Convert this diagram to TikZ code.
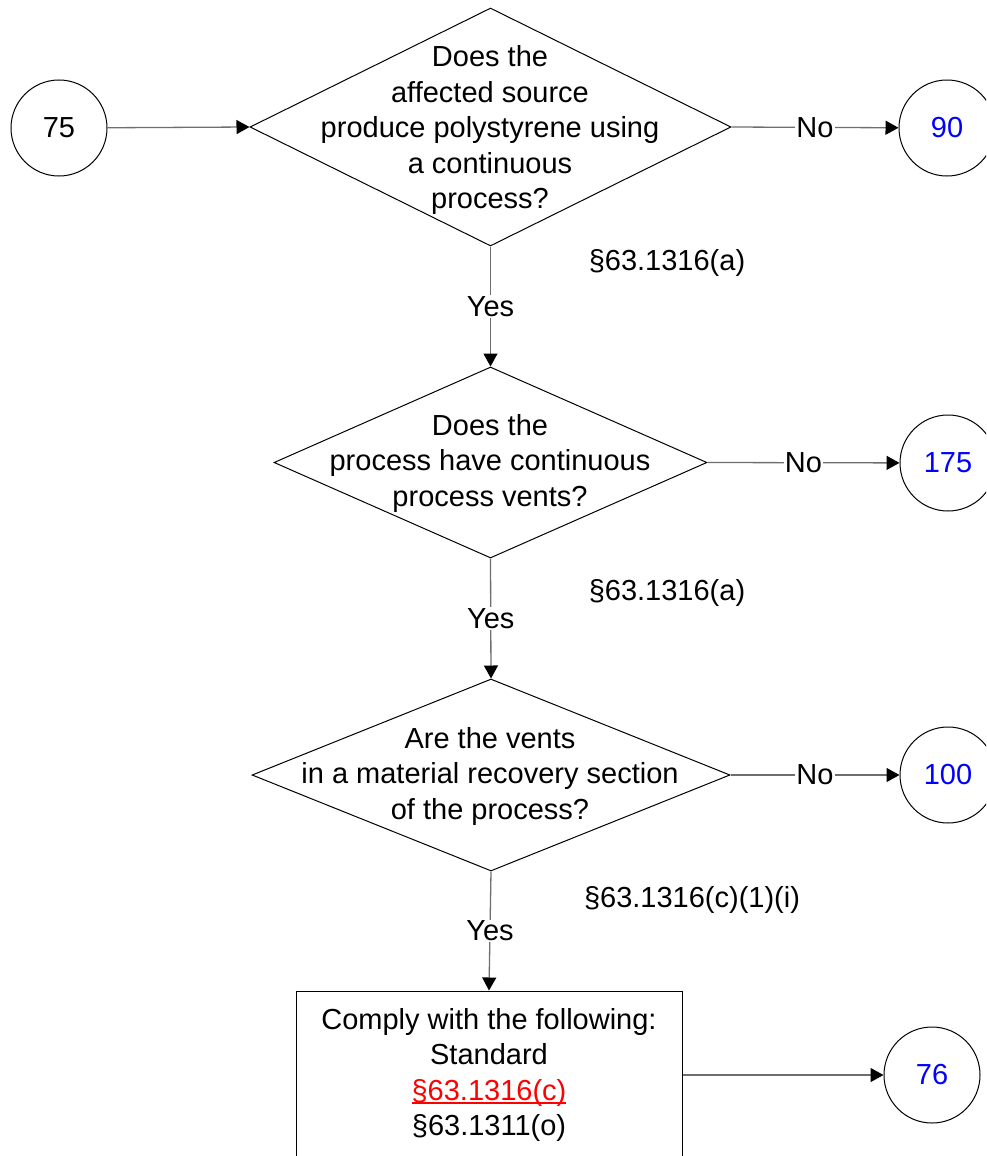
\documentclass[tikz,border=0pt]{standalone}
\usepackage{fontspec}
\setmainfont{Liberation Sans}
\usetikzlibrary{arrows.meta,shapes.geometric}
\definecolor{linkblue}{RGB}{0,0,255}
\definecolor{linkred}{RGB}{255,0,0}
\definecolor{connc}{RGB}{110,110,110}
\newcommand{\ulinetext}[1]{\setbox0\hbox{#1}\rlap{\rule[-3.5pt]{\wd0}{1.5pt}}\box0}
\begin{document}
\begin{tikzpicture}[x=1pt,y=-1pt,
  every node/.style={font=\fontsize{29}{35.5}\selectfont},
  term/.style={draw=black, line width=1pt, circle, minimum size=96pt, inner sep=0pt},
  dia/.style={draw=black, line width=1pt, shape=diamond, inner sep=0pt},
  qtext/.style={align=center, inner sep=0pt},
  actbox/.style={draw=black, line width=1pt, rectangle, align=center, minimum width=386pt, minimum height=168pt, inner sep=0pt},
  conn/.style={draw=connc, line width=1.3pt, -{Triangle[length=13pt,width=14pt,color=black]}},
  lab/.style={fill=white, inner sep=1pt, text=black},
  ref/.style={inner sep=0pt}]
\useasboundingbox (0,0) rectangle (986,1156);
\clip (0,0) rectangle (986,1156);

% terminals
\node[term] (c75) at (59,128) {75};
\node[term, text=linkblue] (c90) at (947,128) {90};
\node[term, text=linkblue] (c175) at (948,463) {175};
\node[term, text=linkblue] (c100) at (948,775) {100};
\node[term, text=linkblue] (c76) at (932,1075) {76};

% decisions
\node[dia, minimum width=481pt, minimum height=238pt] (d1) at (490.5,127) {};
\node[qtext] (d1t) at (490,130) {Does the\\affected source\\produce polystyrene using\\a continuous\\process?};
\node[dia, minimum width=433pt, minimum height=191pt] (d2) at (490.5,462.5) {};
\node[qtext] (d2t) at (490,463) {Does the\\process have continuous\\process vents?};
\node[dia, minimum width=478pt, minimum height=192pt] (d3) at (491,775) {};
\node[qtext] (d3t) at (490,776) {Are the vents\\in a material recovery section\\of the process?};

% action box
\node[actbox] (box) at (489,1075) {Comply with the following:\\Standard\\\textcolor{linkred}{\ulinetext{§63.1316(c)}}\\§63.1311(o)};

% references
\node[ref] (r1) at (667,263) {§63.1316(a)};
\node[ref] (r2) at (667,593) {§63.1316(a)};
\node[ref] (r3) at (692,900) {§63.1316(c)(1)(i)};

% connectors
\draw[conn] (c75) -- (d1.west);
\draw[conn] (d1.east) -- node[lab] {No} (c90);
\draw[conn] (d1.south) -- node[lab] {Yes} (d2.north);
\draw[conn] (d2.east) -- node[lab] {No} (c175);
\draw[conn] (d2.south) -- node[lab] {Yes} (d3.north);
\draw[conn] (d3.east) -- node[lab] {No} (c100);
\draw[conn] (d3.south) -- node[lab] {Yes} (box.north);
\draw[conn] (box.east) -- (c76);
\end{tikzpicture}
\end{document}
